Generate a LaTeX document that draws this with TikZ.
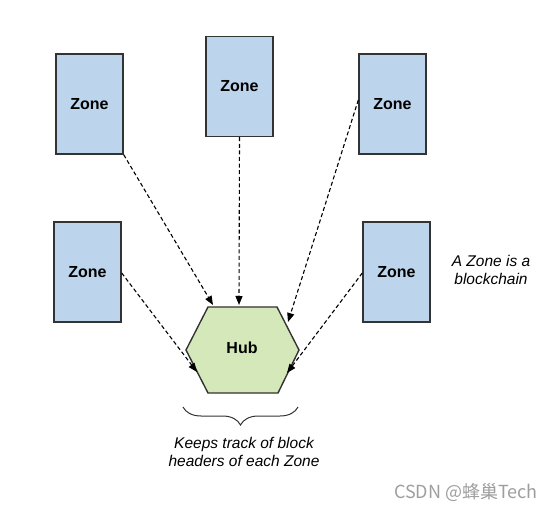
\documentclass[tikz,border=0pt]{standalone}
\usepackage{fontspec}
\setmainfont{Liberation Sans}
\newfontfamily\cjk{Noto Sans CJK SC}
\usetikzlibrary{arrows.meta,decorations.pathreplacing}
\definecolor{zoneblue}{HTML}{BCD5EC}
\definecolor{hubgreen}{HTML}{D4E8BA}
\definecolor{edgegray}{HTML}{333333}
\begin{document}
\begin{tikzpicture}[x=1pt,y=-1pt,
  zone/.style={draw=edgegray,line width=1.4pt,fill=zoneblue,minimum width=67pt,minimum height=100pt,inner sep=0pt,font=\fontsize{16}{18}\selectfont\bfseries},
  feed/.style={dashed,dash pattern=on 4pt off 2.6pt,line width=1.1pt,black,-{Triangle[length=9pt,width=7pt]}},
  note/.style={font=\fontsize{15.5}{18}\selectfont\itshape,align=center,inner sep=0pt}]
\useasboundingbox (0,0) rectangle (554,510);
% zones
\node[zone] (z1) at (89.5,104) {Zone};
\node[zone] (z2) at (239.5,86.5) {Zone};
\node[zone] (z3) at (392.5,104) {Zone};
\node[zone] (z4) at (87.5,272) {Zone};
\node[zone] (z5) at (396.5,272) {Zone};
% hub hexagon
\coordinate (hl) at (186,350);
\coordinate (htl) at (208,307);
\coordinate (htr) at (277,307);
\coordinate (hr) at (299,350);
\coordinate (hbr) at (278,393);
\coordinate (hbl) at (208,393);
\draw[draw=edgegray,line width=1.4pt,fill=hubgreen,line join=miter] (hl) -- (htl) -- (htr) -- (hr) -- (hbr) -- (hbl) -- cycle;
\node[font=\fontsize{16}{18}\selectfont\bfseries] (hub) at (242,348) {Hub};
% arrow end points on hub
\coordinate (e1) at (213,305);
\coordinate (e2) at (239,305);
\coordinate (e3) at (288,322);
\coordinate (e4) at (197,372);
\coordinate (e5) at (287,373);
% connectors
\draw[feed] (z1.south east) -- (e1);
\draw[feed] (z2.south) -- (e2);
\draw[feed] ([yshift=4pt]z3.west) -- (e3);
\draw[feed] ([yshift=-1pt]z4.east) -- (e4);
\draw[feed] ([yshift=-1pt]z5.west) -- (e5);
% brace
\coordinate (bl) at (183,407);
\coordinate (br) at (298,407);
\draw[edgegray,line width=1pt,decorate,decoration={brace,mirror,amplitude=18pt}] (bl) -- (br);
% notes
\node[note] (n1) at (491,270) {A Zone is a\\blockchain};
\node[note] (n2) at (244,452) {Keeps track of block\\headers of each Zone};
\node[font=\cjk\fontsize{18}{20}\selectfont,text=black!38,inner sep=0pt] (wm) at (466,492) {CSDN @蜂巢Tech};
\end{tikzpicture}
\end{document}
